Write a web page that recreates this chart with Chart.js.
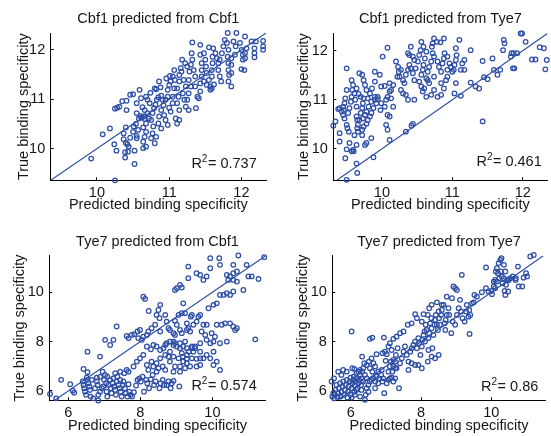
<!DOCTYPE html>
<html><head><meta charset="utf-8">
<script src="https://cdn.jsdelivr.net/npm/chart.js@4"></script>
<style>
html,body{margin:0;padding:0;background:#fff;}
#wrap{position:relative;width:551px;height:436px;overflow:hidden;background:#fff;}
#wrap canvas{position:absolute;}
</style></head><body>
<div id="wrap">
<canvas id="c0" width="275" height="218" style="left:0;top:0"></canvas>
<canvas id="c1" width="276" height="218" style="left:275px;top:0"></canvas>
<canvas id="c2" width="275" height="218" style="left:0;top:218px"></canvas>
<canvas id="c3" width="276" height="218" style="left:275px;top:218px"></canvas>
</div>
<script>
// ---------- text ----------
const panelTitles = ['Cbf1 predicted from Cbf1','Cbf1 predicted from Tye7','Tye7 predicted from Cbf1','Tye7 predicted from Tye7'];
const xAxisTitle = 'Predicted binding specificity';
const yAxisTitle = 'True binding specificity';
const r2Values = ['0.737','0.461','0.574','0.86'];
const cbf1Ticks = [10,11,12];
const tye7Ticks = [6,8,10];

// ---------- data: [predicted, true] ----------
const cbf1FromCbf1 = [
[9.92,9.80],[10.25,9.36],[10.08,10.29],[10.18,10.41],[10.24,10.09],[10.27,9.96],[10.25,10.81],[10.28,10.83],[10.31,10.85],[10.35,10.96],
[10.41,10.97],[10.41,10.78],[10.40,10.43],[10.37,10.31],[10.37,10.19],[10.40,10.12],[10.42,10.09],[10.39,9.93],[10.39,9.82],[10.43,9.94],
[10.44,10.04],[10.46,10.22],[10.50,10.34],[10.51,10.45],[10.54,10.50],[10.55,10.72],[10.55,10.92],[10.50,11.10],[10.46,11.09],[10.59,11.19],
[10.61,11.02],[10.58,10.61],[10.57,10.38],[10.55,10.21],[10.52,9.96],[10.52,9.69],[10.55,10.26],[10.64,10.43],[10.65,10.65],[10.66,10.78],
[10.63,10.84],[10.68,11.05],[10.70,10.99],[10.73,10.92],[10.70,10.72],[10.72,10.61],[10.68,10.51],[10.68,10.34],[10.66,10.24],[10.64,10.14],
[10.64,10.01],[10.68,10.04],[10.75,10.21],[10.77,10.31],[10.78,10.45],[10.75,10.58],[10.77,10.72],[10.79,10.82],[10.81,10.89],[10.83,10.99],
[10.85,11.04],[10.82,11.20],[10.80,11.22],[10.86,11.36],[10.88,11.24],[10.89,11.07],[10.91,10.99],[10.92,10.88],[10.89,10.78],[10.86,10.65],
[10.85,10.51],[10.89,10.41],[10.82,10.24],[10.80,10.11],[10.93,10.68],[10.95,10.58],[10.98,10.48],[10.95,10.99],[10.98,11.05],[10.98,11.19],
[11.00,11.29],[11.02,11.36],[11.01,11.47],[11.05,11.46],[11.07,11.59],[11.08,11.39],[11.07,11.22],[11.05,11.05],[11.05,10.92],[11.02,10.75],
[11.09,10.61],[11.11,10.51],[11.14,10.58],[11.14,10.78],[11.11,10.92],[11.13,11.05],[11.11,11.22],[11.14,11.36],[11.14,11.49],[11.16,11.63],
[11.18,11.80],[11.17,11.56],[11.20,11.39],[11.23,11.26],[11.19,11.12],[11.21,10.99],[11.23,10.85],[11.27,10.78],[11.25,10.99],[11.27,11.12],
[11.30,11.26],[11.27,11.39],[11.28,11.56],[11.30,11.70],[11.32,11.80],[11.31,11.93],[11.32,12.15],[11.34,11.59],[11.36,11.46],[11.36,11.26],
[11.39,11.05],[11.37,10.82],[11.41,11.02],[11.43,11.16],[11.43,11.32],[11.45,11.46],[11.45,11.59],[11.45,11.73],[11.43,11.90],[11.43,12.10],
[11.48,11.93],[11.50,11.80],[11.51,11.66],[11.52,11.53],[11.55,11.39],[11.52,11.29],[11.57,11.19],[11.59,11.22],[11.59,11.46],[11.59,11.59],
[11.60,11.73],[11.60,11.86],[11.61,12.03],[11.55,12.05],[11.64,11.93],[11.66,11.83],[11.68,11.73],[11.68,11.59],[11.70,11.46],[11.72,11.36],
[11.70,11.80],[11.73,11.93],[11.75,12.07],[11.77,12.20],[11.80,12.14],[11.82,12.00],[11.81,11.86],[11.82,11.73],[11.82,11.59],[11.83,11.49],
[11.82,11.36],[11.86,11.53],[11.86,11.70],[11.86,11.83],[11.91,11.90],[11.92,12.07],[11.89,12.17],[11.93,12.34],[11.81,12.34],[11.98,12.14],
[12.00,12.00],[12.02,11.90],[12.02,11.80],[12.05,11.93],[12.05,11.83],[12.00,11.61],[12.04,11.59],[12.07,12.03],[12.14,12.17],[12.20,12.17],
[12.30,12.18],[12.30,12.07],[12.30,12.00],[12.18,12.03],[12.18,11.93],[12.18,11.85],[12.05,12.27],[11.86,11.26],[10.62,10.63],[10.66,10.60],
[10.60,10.66],[11.57,11.26],[11.48,11.36],[11.25,11.66],[11.22,11.73],[10.96,11.42],[10.74,11.13],[11.00,10.83],[11.62,11.30]
];
const cbf1FromTye7 = [
[9.31,10.47],[9.34,10.56],[9.40,10.32],[9.40,10.15],[9.38,10.81],[9.40,10.83],[9.43,10.76],[9.45,10.69],[9.45,10.86],[9.47,10.93],
[9.48,11.03],[9.50,11.20],[9.47,10.62],[9.50,10.49],[9.51,10.42],[9.53,10.35],[9.54,10.12],[9.50,9.99],[9.48,9.81],[9.50,9.37],
[9.46,10.79],[9.52,10.73],[9.54,10.83],[9.56,10.96],[9.57,11.06],[9.58,11.20],[9.59,11.30],[9.61,11.13],[9.62,11.00],[9.64,10.86],
[9.64,10.66],[9.65,10.59],[9.66,10.49],[9.65,10.42],[9.66,10.35],[9.61,10.28],[9.64,10.08],[9.59,9.98],[9.60,9.95],[9.57,9.95],
[9.72,10.28],[9.76,10.08],[9.78,10.12],[9.85,10.22],[9.88,9.83],[9.64,9.70],[9.65,9.51],[9.68,11.54],[9.72,11.51],[9.74,11.40],
[9.76,11.30],[9.78,11.20],[9.80,11.03],[9.83,11.13],[9.86,11.23],[9.90,11.37],[9.90,11.06],[9.92,10.93],[9.88,10.83],[9.85,10.73],
[9.83,10.66],[9.80,10.59],[9.78,10.51],[9.74,10.45],[9.72,10.39],[9.68,10.59],[9.70,10.73],[9.72,10.83],[9.73,10.93],[9.74,11.03],
[9.70,11.06],[9.67,11.12],[9.64,11.23],[9.57,11.40],[9.50,11.64],[9.73,10.62],[9.76,10.69],[9.78,10.76],[9.81,10.86],[9.85,10.96],
[9.90,11.00],[9.94,11.01],[9.99,10.93],[10.04,10.86],[10.06,11.00],[10.08,11.06],[10.11,11.17],[10.13,11.20],[10.16,11.30],[10.11,11.34],
[10.04,11.28],[10.08,10.69],[10.11,10.66],[10.06,10.49],[9.99,11.27],[9.97,11.51],[9.90,11.57],[9.94,11.06],[9.98,10.79],[10.13,11.03],
[10.16,10.86],[10.08,10.39],[10.11,10.18],[10.34,10.35],[10.42,10.47],[10.44,10.51],[10.01,11.88],[10.08,12.06],[10.20,11.78],[10.23,11.67],
[10.24,11.57],[10.25,11.47],[10.27,11.61],[10.22,11.47],[10.30,11.40],[10.32,11.34],[10.34,11.51],[10.37,11.61],[10.39,11.71],[10.37,11.95],
[10.39,11.91],[10.41,12.08],[10.44,11.88],[10.46,11.81],[10.41,11.64],[10.44,11.54],[10.46,11.40],[10.48,11.64],[10.51,11.78],[10.53,11.91],
[10.55,12.01],[10.56,12.18],[10.59,12.08],[10.63,11.98],[10.61,11.84],[10.59,11.71],[10.58,11.61],[10.56,11.51],[10.53,11.37],[10.56,11.27],
[10.58,11.17],[10.60,11.23],[10.63,11.44],[10.65,11.57],[10.67,11.67],[10.70,11.78],[10.71,12.08],[10.72,12.15],[10.74,12.25],[10.78,12.18],
[10.83,12.17],[10.72,11.95],[10.74,11.88],[10.79,11.78],[10.81,11.67],[10.84,11.57],[10.86,11.74],[10.88,11.84],[10.89,11.95],[10.93,11.88],
[10.96,11.74],[10.98,11.67],[11.00,11.57],[11.03,11.71],[11.05,11.81],[11.06,11.91],[11.05,12.05],[11.10,12.22],[11.12,11.61],[11.14,11.74],
[11.17,11.81],[11.17,11.61],[10.93,11.61],[10.91,11.40],[10.88,11.23],[10.84,11.10],[10.79,11.06],[10.74,11.20],[10.70,11.10],[10.67,11.34],
[10.65,11.40],[10.63,11.06],[10.46,11.00],[10.37,11.00],[10.34,11.10],[10.30,11.13],[10.27,11.20],[10.88,12.25],[10.93,11.47],[11.02,11.61],
[11.05,11.34],[11.03,11.13],[11.12,11.08],[10.84,11.34],[10.74,11.47],[11.26,12.01],[11.26,11.35],[11.38,11.23],[11.43,10.56],[11.50,11.42],
[11.57,11.84],[11.59,11.61],[11.64,11.51],[11.68,11.61],[11.72,12.01],[11.74,12.15],[11.73,12.22],[11.83,11.88],[11.84,11.95],[11.87,11.95],
[11.92,11.95],[11.97,12.35],[11.99,12.35],[12.04,12.18],[12.13,11.82],[12.18,11.82],[12.24,12.07],[12.30,12.05],[12.34,11.81],[12.32,11.62],
[11.86,11.64],[11.88,11.64],[11.33,11.27],[11.45,11.46],[11.43,11.79]
];
const tye7FromCbf1 = [
[5.49,5.88],[5.66,5.70],[5.80,6.45],[6.05,6.27],[6.12,6.01],[6.16,5.93],[6.40,6.38],[6.42,6.24],[6.44,6.11],[6.46,5.97],
[6.49,5.84],[6.51,6.54],[6.53,6.45],[6.56,6.31],[6.58,6.18],[6.60,6.04],[6.62,5.77],[6.69,5.70],[6.74,6.11],[6.79,6.38],
[6.81,6.24],[6.83,5.84],[6.83,5.61],[6.88,5.97],[6.93,6.11],[6.97,6.18],[6.99,6.45],[7.02,6.65],[7.05,6.31],[7.06,5.97],
[7.08,5.77],[7.11,6.24],[7.16,6.45],[7.18,6.11],[7.20,5.91],[7.23,6.31],[7.25,6.51],[7.27,6.18],[7.30,6.04],[7.32,5.84],
[7.34,6.38],[7.36,6.58],[7.39,6.24],[7.42,6.11],[7.44,6.45],[7.45,5.97],[7.48,5.77],[7.51,6.24],[7.53,6.38],[7.55,6.72],
[7.57,6.11],[7.60,5.91],[7.62,6.85],[7.64,5.77],[7.67,6.27],[7.69,5.97],[7.73,5.84],[7.77,5.77],[7.82,5.95],[7.88,6.22],
[7.92,6.45],[7.97,6.51],[8.01,6.38],[8.06,6.58],[8.10,5.97],[8.16,6.45],[8.19,6.31],[8.24,6.11],[8.29,6.47],[8.34,6.65],
[8.38,6.24],[8.42,6.38],[8.45,6.78],[8.50,6.92],[8.53,6.11],[8.56,6.31],[8.62,6.45],[8.66,6.24],[8.73,6.24],[8.78,6.38],
[8.84,6.11],[8.87,6.31],[8.92,6.41],[9.08,6.18],[6.42,6.89],[6.53,6.76],[6.65,6.45],[6.79,6.54],[6.88,6.57],[6.95,6.78],
[7.08,6.58],[7.30,6.72],[7.44,6.78],[7.67,6.78],[7.81,6.99],[7.90,7.19],[7.99,7.32],[8.08,7.46],[8.18,7.05],[8.22,6.85],
[8.31,7.19],[8.36,6.99],[8.45,7.12],[8.55,7.32],[8.62,6.99],[8.69,6.85],[8.82,7.19],[8.92,6.78],[9.10,6.99],[9.19,7.19],
[9.24,6.92],[9.29,7.12],[9.38,6.99],[9.43,7.32],[9.56,6.99],[9.66,7.05],[9.75,7.32],[9.84,7.46],[10.03,7.05],[10.12,7.19],
[10.21,6.85],[10.03,7.59],[9.94,7.32],[9.66,7.59],[9.52,7.73],[9.43,7.73],[9.34,7.59],[9.29,7.46],[9.15,7.53],[9.10,7.73],
[9.01,7.80],[8.96,7.93],[8.92,7.86],[8.82,8.00],[8.73,7.93],[8.69,7.86],[8.64,7.73],[8.55,7.66],[8.45,7.80],[8.36,7.86],
[8.29,7.69],[8.18,7.80],[8.04,8.07],[7.94,8.14],[7.92,8.41],[7.99,8.47],[8.08,8.20],[8.22,8.41],[8.31,8.54],[8.41,8.68],
[8.45,9.08],[8.50,9.28],[8.53,8.95],[8.69,9.08],[8.73,8.81],[8.82,8.47],[8.92,8.34],[8.96,8.84],[9.06,9.08],[9.15,9.15],
[9.19,9.55],[9.24,9.15],[9.29,8.74],[9.33,8.54],[9.38,8.41],[9.40,9.01],[9.43,9.08],[9.47,8.68],[9.56,8.81],[9.61,9.01],
[9.66,9.08],[9.70,8.41],[9.75,8.68],[9.80,8.27],[9.84,8.07],[9.94,7.93],[9.98,8.34],[10.07,8.20],[10.12,8.68],[10.26,8.68],
[10.35,8.74],[10.49,8.74],[10.58,8.61],[10.63,8.47],[10.68,8.54],[10.40,8.00],[10.21,7.93],[10.03,8.00],[9.66,7.93],[9.52,7.80],
[9.84,8.68],[9.89,9.35],[10.03,9.49],[10.12,9.55],[10.21,9.89],[10.31,9.89],[10.40,9.96],[10.49,9.89],[10.58,10.03],[10.49,10.64],
[10.58,10.77],[10.68,10.84],[10.40,10.70],[10.44,10.50],[10.58,10.50],[10.68,10.43],[10.21,11.11],[10.19,11.38],[9.94,11.38],[9.94,10.97],
[9.84,10.64],[9.75,10.50],[9.56,10.77],[9.66,10.70],[9.33,11.04],[9.33,10.57],[9.10,10.30],[9.15,10.19],[9.01,10.16],[8.96,10.09],
[8.55,9.49],[8.08,9.82],[8.13,9.73],[7.34,8.61],[7.02,8.07],[6.53,7.59],[6.88,7.39],[7.16,7.86],[7.25,8.07],[7.62,8.23],
[7.67,8.14],[7.76,8.27],[7.83,8.30],[8.18,8.27],[8.23,9.24],[10.72,11.49],[10.58,11.11],[11.00,10.64],[11.28,10.54],[10.86,10.09],
[11.19,8.09],[11.44,11.42],[10.95,11.11],[11.09,10.64],[8.78,7.39],[8.92,7.39],[9.06,7.32],[9.18,7.39],[9.29,7.30],[9.56,7.30],
[9.66,7.32],[9.47,7.59],[8.82,7.59],[8.69,7.46],[8.96,6.99],[9.10,6.78],[8.92,8.00],[9.10,7.93],[9.19,7.80],[9.43,7.80],
[9.24,8.00],[9.29,7.73],[8.96,8.27],[9.01,8.68],[9.10,8.47],[9.15,8.34],[9.29,8.47],[8.78,8.54],[8.55,8.41]
];
const tye7FromTye7 = [
[5.47,5.77],[5.50,5.91],[5.52,5.70],[5.54,5.84],[5.56,6.04],[5.59,6.24],[5.62,5.77],[5.64,5.91],[5.66,6.11],[5.69,6.31],
[5.71,5.77],[5.73,5.97],[5.76,6.18],[5.78,6.38],[5.81,5.84],[5.83,6.04],[5.85,6.24],[5.88,6.45],[5.90,5.73],[5.92,5.97],
[5.94,6.18],[5.97,6.38],[5.99,6.54],[6.00,5.84],[6.02,6.11],[6.04,6.31],[6.07,6.45],[6.08,6.58],[6.10,5.97],[6.11,6.22],
[6.13,6.38],[6.16,6.51],[6.19,6.11],[6.21,6.31],[6.23,6.45],[6.26,6.65],[6.29,6.24],[6.30,6.51],[6.32,6.78],[6.35,6.92],
[6.40,5.64],[6.42,5.84],[6.45,6.11],[6.50,6.24],[6.54,6.38],[6.59,6.45],[6.64,6.51],[6.69,6.38],[6.73,6.58],[6.78,6.78],
[6.80,6.51],[6.86,6.65],[6.90,6.38],[6.95,5.91],[7.02,6.31],[7.07,6.45],[7.11,6.51],[7.16,6.54],[7.21,6.38],[7.26,6.51],
[7.37,6.11],[7.18,6.78],[7.11,6.99],[7.14,7.19],[7.21,7.26],[7.26,6.92],[7.07,6.78],[6.61,6.78],[6.54,6.92],[6.45,7.05],
[6.51,7.19],[6.64,7.12],[6.69,6.99],[6.38,7.12],[6.32,7.39],[6.59,7.32],[6.73,7.49],[7.02,7.49],[6.99,7.22],[6.10,6.89],
[6.04,6.92],[5.73,6.65],[5.64,6.78],[5.52,6.51],[5.45,6.38],[6.02,8.41],[6.54,8.11],[6.61,8.16],[6.94,8.16],[7.30,6.92],
[7.40,7.12],[7.45,7.32],[7.50,7.59],[7.54,7.80],[7.59,7.46],[7.64,7.19],[7.69,7.59],[7.73,7.73],[7.78,7.86],[7.83,8.00],
[7.88,7.73],[7.92,8.14],[7.94,7.93],[7.98,7.46],[8.02,7.80],[8.04,8.07],[8.07,8.27],[8.10,8.41],[8.11,8.00],[8.13,8.68],
[8.16,8.47],[8.21,8.14],[8.23,8.34],[8.26,8.74],[8.29,8.95],[8.30,8.54],[8.32,7.73],[8.35,8.27],[8.38,8.68],[8.40,8.88],
[8.42,9.08],[8.45,8.68],[8.48,8.47],[8.50,9.22],[8.51,8.95],[8.54,8.68],[8.57,9.08],[8.59,9.28],[8.64,9.49],[8.67,8.74],
[8.69,8.47],[8.70,8.88],[8.73,9.08],[8.78,9.35],[8.80,9.08],[8.86,8.34],[8.90,8.81],[8.97,8.68],[9.02,9.08],[9.07,9.35],
[9.11,9.69],[9.14,9.22],[9.18,8.95],[9.24,8.81],[9.28,9.22],[9.30,9.49],[9.35,9.01],[9.37,9.28],[9.40,9.08],[9.45,9.55],
[9.50,9.59],[9.52,9.89],[9.38,8.31],[9.16,10.70],[8.97,10.16],[8.92,10.23],[9.02,10.09],[8.88,9.76],[8.73,9.82],[8.59,9.49],
[8.45,9.59],[8.30,9.49],[8.23,9.35],[8.19,9.08],[7.83,9.11],[8.07,9.11],[7.88,8.95],[8.02,8.81],[7.73,8.74],[7.62,8.68],
[7.50,8.41],[7.40,8.34],[7.30,8.20],[7.21,8.11],[7.11,7.93],[7.16,7.66],[7.07,7.80],[6.97,7.59],[6.90,7.53],[7.33,7.73],
[7.28,7.46],[7.26,7.19],[7.21,6.99],[7.64,6.85],[7.73,7.12],[7.83,7.05],[8.02,6.92],[8.19,7.19],[8.30,7.39],[8.40,7.32],
[8.50,7.46],[8.21,7.66],[7.92,7.05],[9.59,9.82],[9.73,10.00],[9.85,10.16],[10.02,9.92],[10.07,10.23],[10.11,10.50],[10.13,10.84],
[10.16,10.97],[10.19,10.77],[10.21,11.18],[10.26,11.31],[10.29,11.38],[10.30,10.64],[10.32,10.36],[10.35,10.57],[10.38,10.05],[10.40,9.89],
[10.42,10.30],[10.45,10.50],[10.48,10.03],[10.50,10.50],[10.54,10.57],[10.61,10.64],[10.69,10.50],[10.76,11.04],[10.78,10.23],[10.88,10.23],
[10.92,10.59],[10.99,10.77],[11.02,10.64],[11.11,11.45],[11.21,11.51],[9.85,11.00],[10.00,10.05],[9.92,10.03],[10.11,10.16],[10.40,10.84],
[10.36,11.11],[10.23,10.57],[10.27,10.84],[10.16,10.43],[10.07,10.43],[10.70,10.57],[5.88,6.78],[5.78,6.85],[6.21,6.78],[6.40,6.65],
[6.16,6.04],[6.30,6.04],[6.35,6.38],[6.02,5.73],[6.26,5.77],[6.11,5.84],[6.45,6.51],[6.50,5.97],[6.69,6.11],[6.78,6.31],
[6.26,6.85],[6.16,6.72],[6.88,6.85],[6.92,6.51]
];

// ---------- styling / layout ----------
const TEXT = '#161616';
const BLUE = '#2d4ea6';
const FONT = '"Liberation Sans", Arial, Helvetica, sans-serif';
Chart.defaults.font.family = FONT;

const panels = [
  {id:'c0', data:cbf1FromCbf1, ticks:cbf1Ticks, xr:[9.36,12.34], yr:[9.36,12.34],
   area:{l:50.7,t:33,r:9,b:37.7}, titleBase:23, yTitlePad:15, xTitlePad:4.3, r2:{dx:9.3,dy:12}},
  {id:'c1', data:cbf1FromTye7, ticks:cbf1Ticks, xr:[9.31,12.35], yr:[9.36,12.36],
   area:{l:58.3,t:33,r:2,b:37.7}, titleBase:22.5, yTitlePad:20, xTitlePad:4.3, r2:{dx:5.7,dy:14.5}},
  {id:'c2', data:tye7FromCbf1, ticks:tye7Ticks, xr:[5.47,11.48], yr:[5.62,11.48],
   area:{l:49.3,t:37.7,r:9.3,b:35.7}, titleBase:28, yTitlePad:11.7, xTitlePad:1.3, r2:{dx:9,dy:10.3}},
  {id:'c3', data:tye7FromTye7, ticks:tye7Ticks, xr:[5.47,11.55], yr:[5.62,11.48],
   area:{l:57.3,t:37.7,r:5.3,b:35.7}, titleBase:28.4, yTitlePad:19.4, xTitlePad:0.9, r2:{dx:7.4,dy:9.6}}
];

const textPlugin = {
  id:'panelText',
  afterDraw(chart, args, opts){
    const {ctx, chartArea} = chart;
    ctx.save();
    ctx.fillStyle = TEXT;
    ctx.textBaseline = 'alphabetic';
    ctx.font = '14.5px ' + FONT;
    ctx.textAlign = 'center';
    ctx.fillText(opts.title, (chartArea.left + chartArea.right) / 2, opts.titleBase);
    ctx.textAlign = 'left';
    const big = '14.5px ' + FONT, small = '10px ' + FONT;
    const rest = '= ' + opts.r2;
    ctx.font = big;
    const wR = ctx.measureText('R').width, wRest = ctx.measureText(rest).width;
    ctx.font = small;
    const w2 = ctx.measureText('2').width;
    let x = chartArea.right - opts.dx - (wR + w2 + 0.5 + wRest);
    const y = chartArea.bottom - opts.dy;
    ctx.font = big; ctx.fillText('R', x, y); x += wR;
    ctx.font = small; ctx.fillText('2', x, y - 6); x += w2 + 0.5;
    ctx.font = big; ctx.fillText(rest, x, y);
    ctx.restore();
  }
};

panels.forEach((p, i) => {
  const lo = Math.max(p.xr[0], p.yr[0]);
  const hi = Math.min(p.xr[1], p.yr[1]);
  const canvas = document.getElementById(p.id);
  const tickFont = {family: FONT, size: 14.5};
  const setTicks = s => { s.ticks = p.ticks.map(v => ({value: v})); };
  const inwardGrid = {display: true, drawOnChartArea: false, drawTicks: true, tickLength: -3, tickWidth: 1, tickColor: '#000'};
  new Chart(canvas, {
    type: 'scatter',
    data: {
      datasets: [
        {
          data: p.data.map(d => ({x: d[0], y: d[1]})),
          pointStyle: 'circle', pointRadius: 2.3, pointBorderWidth: 1.25,
          borderColor: BLUE, backgroundColor: 'rgba(0,0,0,0)',
          pointHoverRadius: 2.3, clip: false, order: 1
        },
        {
          type: 'line',
          data: [{x: lo, y: lo}, {x: hi, y: hi}],
          borderColor: BLUE, borderWidth: 1.1, pointRadius: 0, fill: false,
          tension: 0, clip: 0, order: 2
        }
      ]
    },
    options: {
      responsive: false, animation: false, events: [],
      layout: {padding: {left: 0, top: p.area.t, right: p.area.r, bottom: 0}},
      plugins: {
        legend: {display: false}, tooltip: {enabled: false},
        panelText: {title: panelTitles[i], titleBase: p.titleBase, r2: r2Values[i], dx: p.r2.dx, dy: p.r2.dy}
      },
      scales: {
        x: {
          type: 'linear', min: p.xr[0], max: p.xr[1],
          afterBuildTicks: setTicks,
          afterFit: s => { s.height = p.area.b; },
          grid: inwardGrid,
          border: {display: true, color: '#000', width: 1},
          ticks: {color: TEXT, font: tickFont, padding: 7, maxRotation: 0, autoSkip: false},
          title: {display: true, text: xAxisTitle, color: TEXT, font: {family: FONT, size: 14.5}, padding: {top: 0, bottom: p.xTitlePad}}
        },
        y: {
          type: 'linear', min: p.yr[0], max: p.yr[1],
          afterBuildTicks: setTicks,
          afterFit: s => { s.width = p.area.l; },
          grid: inwardGrid,
          border: {display: true, color: '#000', width: 1},
          ticks: {color: TEXT, font: tickFont, padding: 8.5, autoSkip: false},
          title: {display: true, text: yAxisTitle, color: TEXT, font: {family: FONT, size: 14.5}, padding: {top: p.yTitlePad, bottom: 0}}
        }
      }
    },
    plugins: [textPlugin]
  });
});
</script>
</body></html>
